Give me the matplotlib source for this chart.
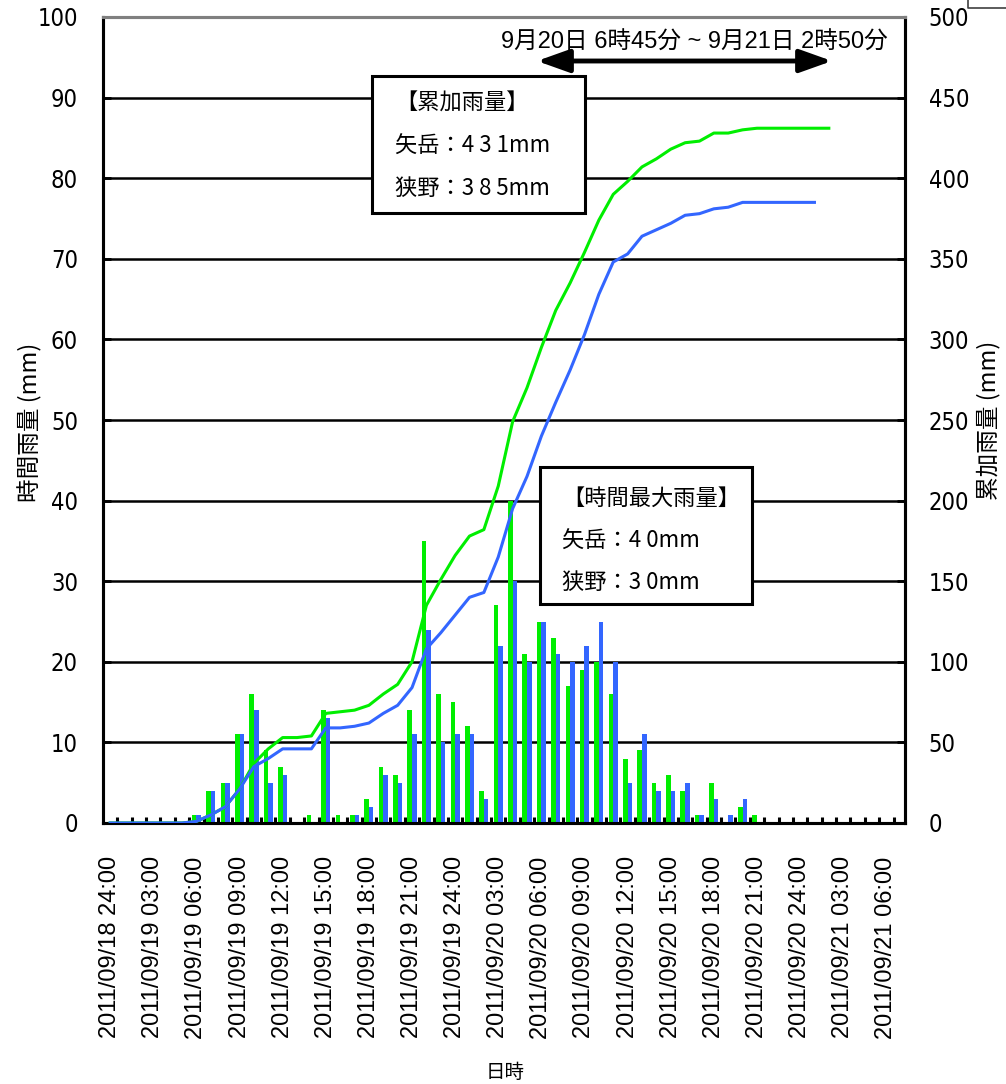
import matplotlib
matplotlib.use("Agg")
import matplotlib.pyplot as plt
from matplotlib import font_manager as fm
from matplotlib.patches import Rectangle, FancyArrowPatch
from matplotlib.lines import Line2D
import numpy as np

plt.rcParams["font.family"] = ["Liberation Sans", "Noto Sans CJK JP", "DejaVu Sans"]

# hourly rainfall (mm), one value per hour starting 2011/09/18 24:00
yadake_hourly = [0, 0, 0, 0, 0, 0, 1, 4, 5, 11, 16, 9, 7, 0, 1, 14, 1, 1, 3, 7,
                 6, 14, 35, 16, 15, 12, 4, 27, 40, 21, 25, 23, 17, 19, 20, 16, 8, 9, 5, 6,
                 4, 1, 5, 0, 2, 1]
sano_hourly = [0, 0, 0, 0, 0, 0, 1, 4, 5, 11, 14, 5, 6, 0, 0, 13, 0, 1, 2, 6,
               5, 11, 24, 10, 11, 11, 3, 22, 30, 20, 25, 21, 20, 22, 25, 20, 5, 11, 4, 4,
               5, 1, 3, 1, 3, 0]

# cumulative rainfall (mm)
yadake_cum = [0, 0, 0, 0, 0, 0, 1, 5, 10, 21, 37, 46, 53, 53, 54, 68, 69, 70, 73, 80,
              86, 100, 135, 151, 166, 178, 182, 209, 249, 270, 295, 318, 335, 354, 374, 390,
              398, 407, 412, 418, 422, 423, 428, 428, 430, 431, 431, 431, 431, 431, 431]
sano_cum = [0, 0, 0, 0, 0, 0, 1, 5, 10, 21, 35, 40, 46, 46, 46, 59, 59, 60, 62, 68,
            73, 84, 108, 118, 129, 140, 143, 165, 195, 215, 240, 261, 281, 303, 328, 348,
            353, 364, 368, 372, 377, 378, 381, 382, 385, 385, 385, 385, 385, 385]

tick_labels = [
    "2011/09/18 24:00", "2011/09/19 03:00", "2011/09/19 06:00", "2011/09/19 09:00",
    "2011/09/19 12:00", "2011/09/19 15:00", "2011/09/19 18:00", "2011/09/19 21:00",
    "2011/09/19 24:00", "2011/09/20 03:00", "2011/09/20 06:00", "2011/09/20 09:00",
    "2011/09/20 12:00", "2011/09/20 15:00", "2011/09/20 18:00", "2011/09/20 21:00",
    "2011/09/20 24:00", "2011/09/21 03:00", "2011/09/21 06:00",
]
n_hours = 56

GREEN = "#00ee00"
BLUE = "#3366ff"

# narrow font for the y tick numbers, if one is installed
installed = {f.name for f in fm.fontManager.ttflist}
narrow_family, narrow_stretch = "Liberation Sans", "normal"
for name in ["Liberation Sans Narrow", "DejaVu Sans Condensed"]:
    if name in installed:
        narrow_family, narrow_stretch = name, "normal"
        break
else:
    if any(f.name == "DejaVu Sans" and f.stretch == "condensed" for f in fm.fontManager.ttflist):
        narrow_family, narrow_stretch = "DejaVu Sans", "condensed"

W, H = 1006, 1084
fig = plt.figure(figsize=(W / 100, H / 100), dpi=100)


def fx(x):
    return x / W


def fy(y):
    return 1 - y / H


ax = fig.add_axes([fx(103), fy(823), fx(905) - fx(103), fy(17) - fy(823)])
ax2 = ax.twinx()

x = np.arange(len(yadake_hourly))
bw = 0.32
ax.bar(x - bw / 2, yadake_hourly, bw, color=GREEN, zorder=3)
ax.bar(x + bw / 2, sano_hourly, bw, color=BLUE, zorder=3)

ax2.plot(np.arange(len(yadake_cum)), yadake_cum, color=GREEN, lw=2.2, zorder=4)
ax2.plot(np.arange(len(sano_cum)), sano_cum, color=BLUE, lw=2.2, zorder=4)

ax.set_xlim(-0.5, 55.3)
ax.set_ylim(0, 100)
ax2.set_ylim(0, 500)
ax.set_yticks(np.arange(0, 101, 10))
ax2.set_yticks(np.arange(0, 501, 50))
ax.yaxis.grid(True, color="black", lw=1.8)
ax.set_axisbelow(True)

ax.set_xticks(np.arange(0, 55, 3))
ax.set_xticklabels(tick_labels, rotation=90, va="top", ha="center")
ax.set_xticks(np.arange(0.5, n_hours - 0.5, 1), minor=True)
ax.tick_params(axis="x", which="major", length=0, pad=24, labelsize=17)
ax.tick_params(axis="x", which="minor", direction="in", length=4, width=2.2, color="black")

ax.tick_params(axis="y", direction="in", length=6, width=2, pad=18)
ax2.tick_params(axis="y", direction="in", length=6, width=2, pad=17)
for t in ax.get_yticklabels() + ax2.get_yticklabels():
    t.set_family(narrow_family)
    t.set_stretch(narrow_stretch)
    t.set_fontsize(17 if narrow_family != "Liberation Sans" else 16)

for a in (ax, ax2):
    for s in ("left", "right", "bottom"):
        a.spines[s].set_color("black")
        a.spines[s].set_linewidth(2.2)
    a.spines["top"].set_color("#808080")
    a.spines["top"].set_linewidth(2.2)

cjk = ["Noto Sans CJK JP", "DejaVu Sans"]
fig.text(fx(30), fy(422), "時間雨量 (mm)", rotation=90, ha="center", va="center",
         fontsize=17, family=cjk)
fig.text(fx(989), fy(420), "累加雨量 (mm)", rotation=90, ha="center", va="center",
         fontsize=17, family=cjk)
fig.text(fx(505), fy(1072), "日時", ha="center", va="center", fontsize=14, family=cjk)

# period arrow
fig.text(fx(694), fy(43), "9月20日 6時45分 ~ 9月21日 2時50分", ha="center", va="center",
         fontsize=17, family=["Liberation Sans", "Noto Sans CJK JP"])
arrow = FancyArrowPatch((fx(537), fy(61)), (fx(832), fy(61)), transform=fig.transFigure,
                        arrowstyle="<|-|>,head_length=1.4,head_width=0.5",
                        mutation_scale=14, lw=3.5, color="black", zorder=6,
                        shrinkA=0, shrinkB=0)
fig.patches.append(arrow)

# text boxes
boxes = [
    ((372, 76, 585, 213), 395, [103, 146, 188],
     ["【累加雨量】", "矢岳：4 3 1mm", "狭野：3 8 5mm"]),
    ((540, 467, 752, 604), 562, [498, 541, 582],
     ["【時間最大雨量】", "矢岳：4 0mm", "狭野：3 0mm"]),
]
for (x0, y0, x1, y1), tx, tys, lines in boxes:
    fig.patches.append(Rectangle((fx(x0), fy(y1)), fx(x1) - fx(x0), fy(y0) - fy(y1),
                                 transform=fig.transFigure, facecolor="white",
                                 edgecolor="black", lw=2.2, zorder=7))
    for ty, s in zip(tys, lines):
        fig.text(fx(tx), fy(ty), s, ha="left", va="center", fontsize=16,
                 family=cjk, zorder=8)

# clipped frame fragment at the top right corner
fig.lines.append(Line2D([fx(968), fx(968), fx(1006)], [fy(0), fy(8), fy(8)],
                        transform=fig.transFigure, color="#404040", lw=1.2))

fig.savefig("out.png", dpi=100)
